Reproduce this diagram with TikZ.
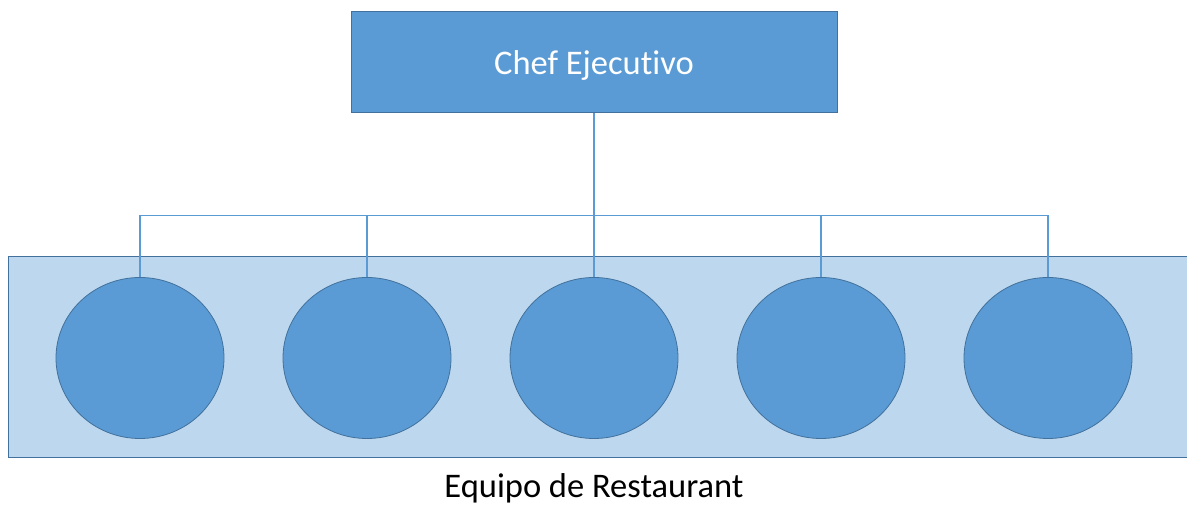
\documentclass[tikz,border=0pt]{standalone}
\usepackage{fontspec}
\setmainfont{Carlito}[Ligatures={NoCommon}]
\usetikzlibrary{positioning,shapes.geometric}

\definecolor{midblue}{HTML}{5B9BD5}
\definecolor{darkblue}{HTML}{41719C}
\definecolor{paleblue}{HTML}{BDD7EE}

\tikzset{
  chefbox/.style={draw=darkblue, fill=midblue, line width=1pt, minimum width=486pt,
    minimum height=101pt, inner sep=0pt, text depth=0pt, text=white,
    font=\fontsize{34.5}{40}\selectfont},
  member/.style={ellipse, draw=darkblue, fill=midblue, line width=0.8pt,
    minimum width=168pt, minimum height=161pt, inner sep=0pt},
  link/.style={draw=midblue, line width=1.4pt}
}

\begin{document}
\begin{tikzpicture}[x=1pt, y=1pt, node distance=227pt]
    \useasboundingbox (0,0) rectangle (1187,505);

    % team area
    \path[draw=darkblue, fill=paleblue, line width=1pt] (8,47) rectangle (1195,248);

    \node[chefbox] (chef) at (594,442.5) {Chef Ejecutivo};

    \node[member] (m1) at (140,147) {};
    \node[member] (m2) [on grid, right=of m1] {};
    \node[member] (m3) [on grid, right=of m2] {};
    \node[member] (m4) [on grid, right=of m3] {};
    \node[member] (m5) [on grid, right=of m4] {};

    \node[font=\fontsize{34.5}{40}\selectfont, anchor=base] (team) at (594,7) {Equipo de Restaurant};

    \coordinate (bus) at (594,289.5);
    \path[link]  (chef.south) -- (bus);
    \path[link]  (bus) -| (m1.north);
    \path[link]  (bus) -| (m2.north);
    \path[link]  (bus) -- (m3.north);
    \path[link]  (bus) -| (m4.north);
    \path[link]  (bus) -| (m5.north);

\end{tikzpicture}
\end{document}
